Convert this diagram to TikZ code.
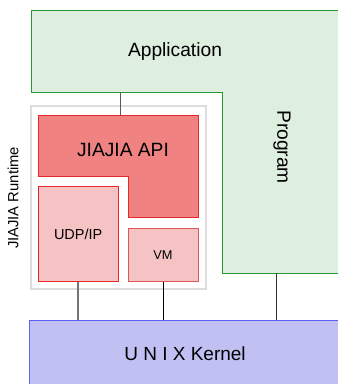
\documentclass[tikz,border=0pt]{standalone}
\usepackage{fontspec}
\setmainfont{Liberation Sans}
\usepackage{tikz}
\usetikzlibrary{positioning, calc}
\definecolor{appfill}{RGB}{222,238,223}
\definecolor{appline}{RGB}{40,150,50}
\definecolor{apifill}{RGB}{240,130,130}
\definecolor{apiline}{RGB}{230,40,40}
\definecolor{libfill}{RGB}{245,195,195}
\definecolor{vmline}{RGB}{225,85,85}
\definecolor{osfill}{RGB}{192,192,242}
\definecolor{osline}{RGB}{95,95,240}
\definecolor{rtline}{RGB}{221,221,221}
\tikzset{
  box/.style={rectangle, inner sep=0pt, outer sep=0pt, line width=0.9pt},
  link/.style={line width=1pt, draw=black!80}
}

\begin{document}
\begin{tikzpicture}[x=1pt,y=-1pt]
\clip (0,0) rectangle (338,384);

% ── Application / Program ─────────────────────────────────────────────────────
\draw[appline, fill=appfill, line width=0.9pt]
     (31,10) -- (346,10) -- (346,273) -- (222,273) -- (222,92) -- (31,92) -- cycle;
\node[font=\fontsize{19.2}{22}\selectfont] (app) at (175,52) {Application};
\node[font=\fontsize{19.2}{22}\selectfont, rotate=-90] (prog) at (282,147) {Program};
\coordinate (appfoot) at (120,92);
\coordinate (progfoot) at (276,273);

% ── JIAJIA runtime ────────────────────────────────────────────────────────────
\node[box, draw=rtline, line width=1.6pt, fill=white,
      minimum width=175pt, minimum height=183pt] (rt) at (118.4,197.5) {};
\node[font=\fontsize{14.8}{17}\selectfont, rotate=90] (rtlbl) at (13,198)
      {JIAJIA Runtime};

\draw[apiline, fill=apifill, line width=0.9pt]
     (38,115.5) -- (198,115.5) -- (198,217) -- (128,217) -- (128,176)
     -- (38,176) -- cycle;
\node[font=\fontsize{19.2}{22}\selectfont] (api) at (123,150) {JIAJIA API};
\coordinate (apitop) at (120,115.5);

\node[box, draw=apiline, fill=libfill, minimum width=80.5pt, minimum height=95pt,
      font=\fontsize{14.5}{17}\selectfont] (udp) at (78.2,234.2) {UDP/IP};
\node[box, draw=vmline, fill=libfill, minimum width=70pt, minimum height=53pt,
      font=\fontsize{12.8}{15}\selectfont] (vm) at (163,255.2) {VM};

% ── Kernel ────────────────────────────────────────────────────────────────────
\node[box, draw=osline, fill=osfill, minimum width=312pt, minimum height=68pt,
      font=\fontsize{19}{22}\selectfont] (os) at (185,354) {U N I X Kernel};

% ── Links ─────────────────────────────────────────────────────────────────────
\draw[link, draw=black!65] (appfoot) -- (apitop);
\draw[link, draw=black!55, line width=1.5pt] (udp.south) -- (udp.south |- os.north);
\draw[link, draw=black] (vm.south) -- (vm.south |- os.north);
\draw[link] (progfoot) -- (progfoot |- os.north);

\end{tikzpicture}
\end{document}
